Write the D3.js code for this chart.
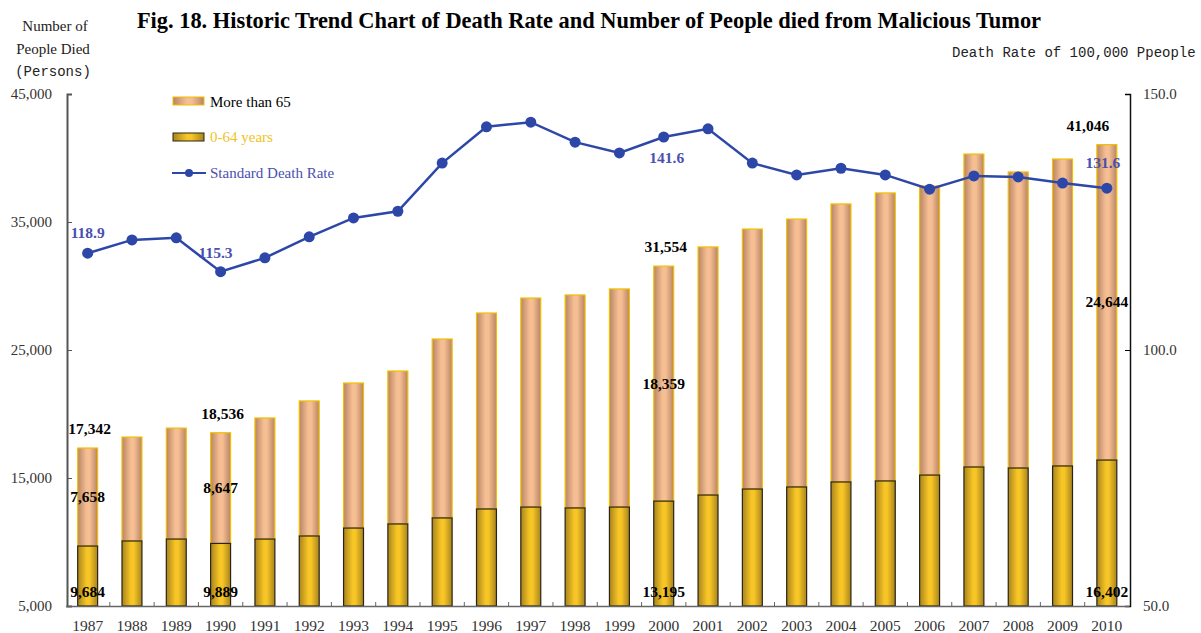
<!DOCTYPE html>
<html>
<head>
<meta charset="utf-8">
<script src="https://cdn.jsdelivr.net/npm/d3@7"></script>
<style>
  body { margin: 0; background: #fff; }
  svg { display: block; }
  text { font-family: "Liberation Serif", "Times New Roman", serif; }
  .mono { font-family: "Liberation Mono", "DejaVu Sans Mono", monospace; }
</style>
</head>
<body>
<div id="chart"></div>
<script>
// data
const years = d3.range(1987, 2011)
const under65 = [9684, 10080, 10230, 9889, 10230, 10470, 11090, 11410, 11880, 12580, 12730, 12660,
  12730, 13195, 13670, 14140, 14300, 14690, 14770, 15230, 15860, 15780, 15940, 16402]
const over65 = [7658, 8120, 8670, 8647, 9460, 10550, 11330, 11950, 13980, 15310, 16330, 16640,
  17040, 18359, 19380, 20310, 20930, 21720, 22500, 22580, 24450, 23130, 23980, 24644]
const deathRate = [118.9, 121.5, 121.9, 115.3, 118.0, 122.1, 125.8, 127.1, 136.5, 143.6, 144.5, 140.6,
  138.5, 141.6, 143.2, 136.5, 134.2, 135.5, 134.2, 131.4, 134.0, 133.8, 132.6, 131.6]
const labelYears = [1987, 1990, 2000, 2010]
const leftTicks = [5000, 15000, 25000, 35000, 45000]
const rightTicks = [50, 100, 150]

const width = 1201, height = 633
const svg = d3.select('#chart').append('svg')
  .attr('width', width).attr('height', height)

const defs = svg.append('defs')
const grad = (id, edge, mid) => {
  const g = defs.append('linearGradient').attr('id', id)
    .attr('x1', '0%').attr('x2', '100%').attr('y1', '0%').attr('y2', '0%')
  g.append('stop').attr('offset', '0%').attr('stop-color', edge)
  g.append('stop').attr('offset', '45%').attr('stop-color', mid)
  g.append('stop').attr('offset', '60%').attr('stop-color', mid)
  g.append('stop').attr('offset', '100%').attr('stop-color', edge)
}
grad('peach', '#b88466', '#f6bf93')
grad('gold', '#a8841c', '#f7c526')

const x = d3.scaleBand().domain(years).range([65.5, 1129])
  .paddingInner(0.55).paddingOuter(0.275)
const y = d3.scaleLinear().domain([5000, 45000]).range([606, 94])
const yR = d3.scaleLinear().domain([50, 150]).range([606, 94])

const rows = years.map((yr, i) => ({
  year: yr, low: under65[i], high: over65[i], total: under65[i] + over65[i], rate: deathRate[i]
}))

// bars
const g = svg.append('g')
g.selectAll('.high').data(rows).join('rect')
  .attr('class', 'high')
  .attr('x', d => x(d.year)).attr('width', x.bandwidth())
  .attr('y', d => y(d.total)).attr('height', d => y(d.low) - y(d.total))
  .attr('fill', 'url(#peach)').attr('stroke', '#f0c000').attr('stroke-width', 1.2)
g.selectAll('.low').data(rows).join('rect')
  .attr('class', 'low')
  .attr('x', d => x(d.year)).attr('width', x.bandwidth())
  .attr('y', d => y(d.low)).attr('height', d => y(5000) - y(d.low))
  .attr('fill', 'url(#gold)').attr('stroke', '#2a2418').attr('stroke-width', 1.2)

// axes
const left = svg.append('g').attr('transform', 'translate(67,0)')
  .call(d3.axisLeft(y).tickValues(leftTicks).tickFormat(d3.format(',')).tickSize(-5).tickPadding(15))
left.select('.domain').attr('stroke', '#555').attr('stroke-width', 2)
left.selectAll('.tick line').attr('stroke', '#555')
left.selectAll('.tick text').attr('font-size', 15).attr('fill', '#333')
  .attr('font-family', '"Liberation Serif", serif')

const right = svg.append('g').attr('transform', 'translate(1130,0)')
  .call(d3.axisRight(yR).tickValues(rightTicks).tickFormat(d3.format('.1f')).tickSize(-5).tickPadding(13))
right.select('.domain').attr('stroke', '#111').attr('stroke-width', 1.5)
right.selectAll('.tick text').attr('font-size', 15).attr('fill', '#333')
  .attr('font-family', '"Liberation Serif", serif')

const bottom = svg.append('g').attr('transform', 'translate(0,606)')
  .call(d3.axisBottom(x).tickSize(0).tickPadding(14).tickSizeOuter(0))
bottom.select('.domain').attr('stroke', '#666').attr('stroke-width', 1.5)
bottom.selectAll('.tick text').attr('font-size', 15.5).attr('fill', '#333')
  .attr('font-family', '"Liberation Serif", serif')
// small ticks between bands, pointing up
svg.append('g').selectAll('line').data(d3.range(1, years.length)).join('line')
  .attr('x1', i => x.range()[0] + i * x.step()).attr('x2', i => x.range()[0] + i * x.step())
  .attr('y1', 606).attr('y2', 602).attr('stroke', '#666')

// rate line
const line = d3.line().x(d => x(d.year) + x.bandwidth() / 2).y(d => yR(d.rate))
svg.append('path').datum(rows).attr('d', line)
  .attr('fill', 'none').attr('stroke', '#2d47a8').attr('stroke-width', 2.5)
svg.append('g').selectAll('circle').data(rows).join('circle')
  .attr('cx', d => x(d.year) + x.bandwidth() / 2).attr('cy', d => yR(d.rate))
  .attr('r', 5.5).attr('fill', '#2d47a8')

// value labels
const labelled = rows.filter(d => labelYears.includes(d.year))
const cx = d => x(d.year) + x.bandwidth() / 2
const fmt = d3.format(',')
const lab = svg.append('g').attr('font-weight', 'bold').attr('font-size', 15.5).attr('text-anchor', 'middle')
lab.selectAll('.tot').data(labelled).join('text')
  .attr('x', d => cx(d) + (d.year === 2010 ? -19 : 2)).attr('y', d => y(d.total) - 14)
  .text(d => fmt(d.total))
lab.selectAll('.mid').data(labelled).join('text')
  .attr('x', cx).attr('y', d => (y(d.total) + y(d.low)) / 2 + 5)
  .text(d => fmt(d.high))
lab.selectAll('.bot').data(labelled).join('text')
  .attr('x', cx).attr('y', 597)
  .text(d => fmt(d.low))
const rateOff = { 1987: [0, -15], 1990: [-5, -14], 2000: [3, 26], 2010: [-4, -20] }
lab.selectAll('.rate').data(labelled).join('text')
  .attr('fill', '#4a4fb0')
  .attr('x', d => cx(d) + rateOff[d.year][0]).attr('y', d => yR(d.rate) + rateOff[d.year][1])
  .text(d => d.rate.toFixed(1))

// legend
const lg = svg.append('g').attr('font-size', 15)
lg.append('rect').attr('x', 173).attr('y', 97).attr('width', 31).attr('height', 8)
  .attr('fill', 'url(#peach)').attr('stroke', '#f0c000')
lg.append('text').attr('x', 210).attr('y', 107).text('More than 65')
lg.append('rect').attr('x', 173).attr('y', 133).attr('width', 31).attr('height', 8)
  .attr('fill', 'url(#gold)').attr('stroke', '#2a2418')
lg.append('text').attr('x', 210).attr('y', 142).attr('fill', '#f2c21c').text('0-64 years')
lg.append('line').attr('x1', 172).attr('x2', 206).attr('y1', 173).attr('y2', 173)
  .attr('stroke', '#2d47a8').attr('stroke-width', 2)
lg.append('circle').attr('cx', 189).attr('cy', 173).attr('r', 4).attr('fill', '#2d47a8')
lg.append('text').attr('x', 210).attr('y', 178).attr('fill', '#4a4fb0').text('Standard Death Rate')

// titles
svg.append('text').attr('x', 589).attr('y', 28).attr('text-anchor', 'middle')
  .attr('font-size', 22.4).attr('font-weight', 'bold')
  .text('Fig. 18. Historic Trend Chart of Death Rate and Number of People died from Malicious Tumor')
const lt = svg.append('g').attr('text-anchor', 'middle').attr('fill', '#222')
lt.append('text').attr('x', 55).attr('y', 31).attr('font-size', 15).text('Number of')
lt.append('text').attr('x', 53).attr('y', 54).attr('font-size', 15).text('People Died')
lt.append('text').attr('class', 'mono').attr('x', 53).attr('y', 76).attr('font-size', 14).text('(Persons)')
svg.append('text').attr('class', 'mono').attr('x', 952).attr('y', 57).attr('font-size', 14)
  .attr('fill', '#222').text('Death Rate of 100,000 Ppeople')
</script>
</body>
</html>
